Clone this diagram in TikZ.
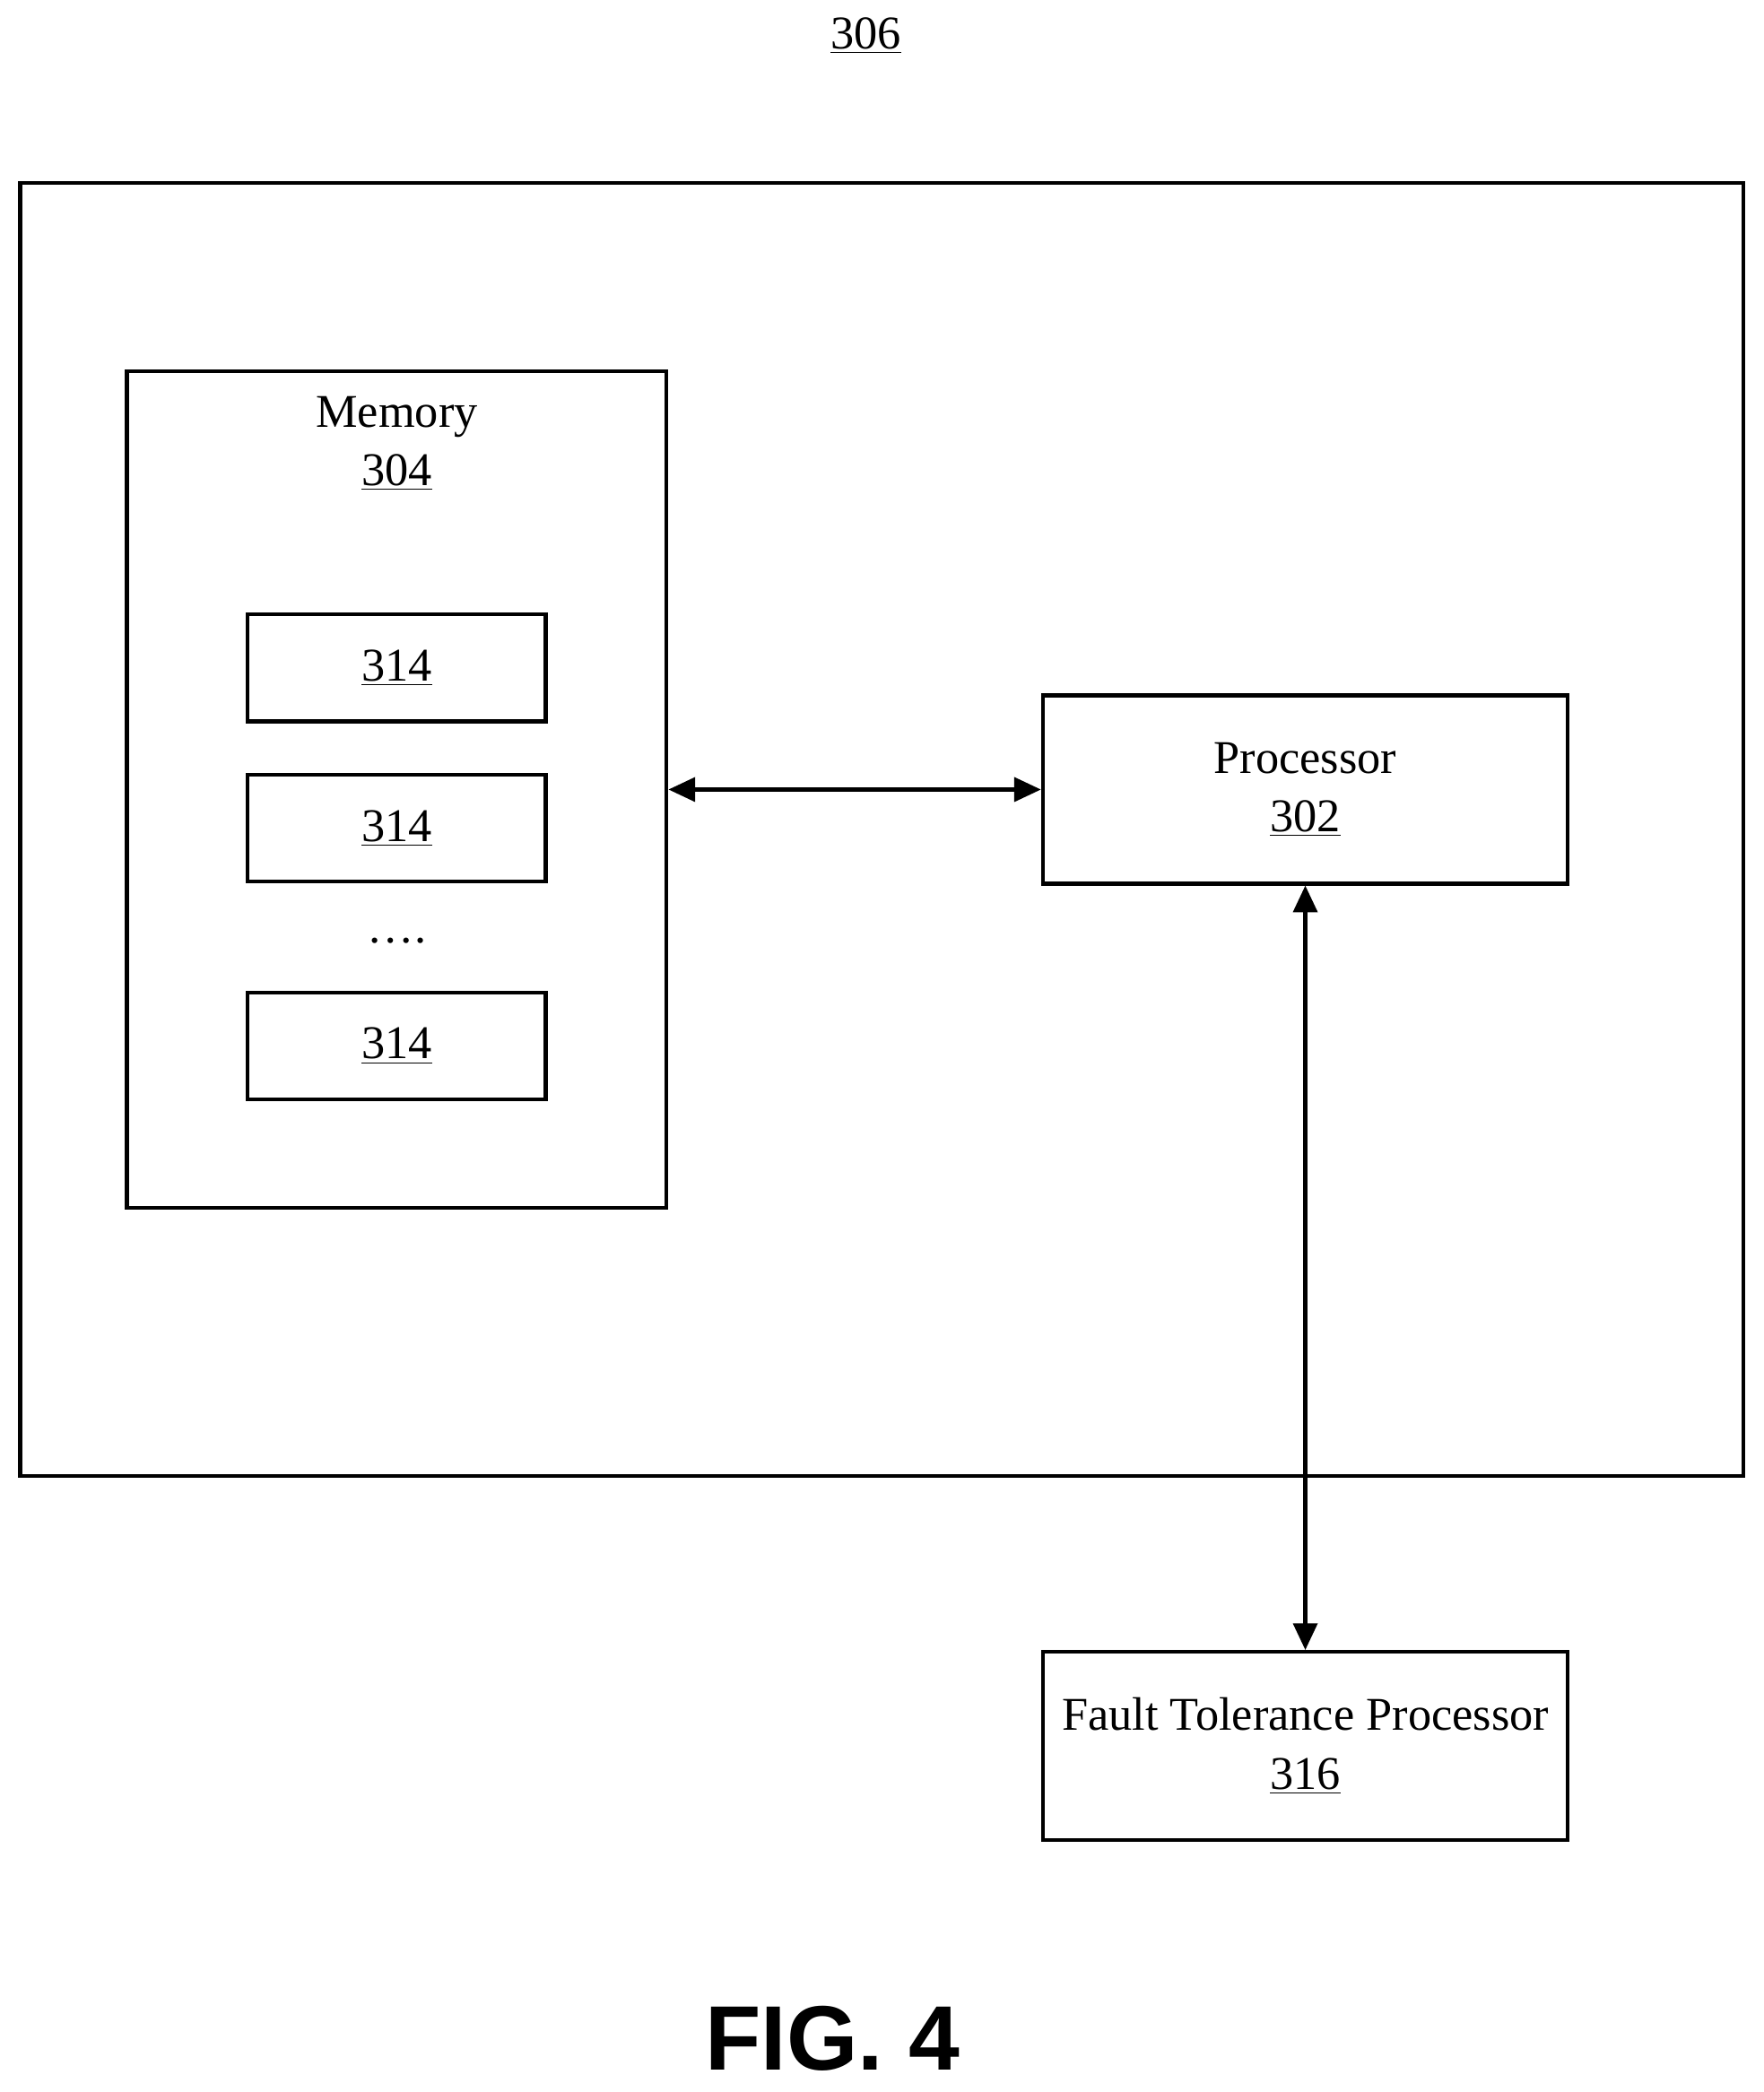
\documentclass[tikz,border=0pt]{standalone}
\usepackage{fontspec}
\setmainfont{Liberation Serif}
\setsansfont{Liberation Sans}
\usetikzlibrary{arrows.meta}
\usetikzlibrary{positioning}

\begin{document}
\begin{tikzpicture}[x=0.02cm, y=-0.02cm, >={Triangle[length=4mm,width=3.6mm]},
  line width=1.6pt, font=\fontsize{20}{24}\selectfont,
  block/.style={draw, rectangle, inner sep=0pt, align=center},
  item/.style={block, minimum width=4.46cm, minimum height=1.6cm},
  unit/.style={block, minimum width=7.86cm, minimum height=2.82cm},
  link/.style={<->}]

  \useasboundingbox (0,0) rectangle (1320,1566);

  \node (label) at (648,27) {\underline{306}};
  \node[block, minimum width=25.8cm, minimum height=19.36cm] (device) at (660,621) {};

  % memory with its entries
  \node[block, minimum width=8.08cm, minimum height=12.52cm] (memory) at (297,591) {};
  \node[align=center] (memtext) at (297,332) {Memory\\[1pt]\underline{304}};
  \node[item] (entry1) at (297,500) {\underline{314}};
  \node[item] (entry2) at (297,620) {\underline{314}};
  \node (dots) at (297,704) {\dots.};
  \node[item] (entry3) at (297,783) {\underline{314}};

  \node[unit] (processor) at (977,591) {Processor\\[1pt]\underline{302}};
  \node[unit] (fault) at (977,1307) {Fault Tolerance Processor\\[1pt]\underline{316}};

  \draw[link] (memory.east |- processor.west) -- (processor.west);
  \draw[link] (processor.south) -- (fault.north);

  \node[font=\sffamily\bfseries\fontsize{39}{44}\selectfont] (fig) at (623,1526) {FIG. 4};
\end{tikzpicture}
\end{document}
